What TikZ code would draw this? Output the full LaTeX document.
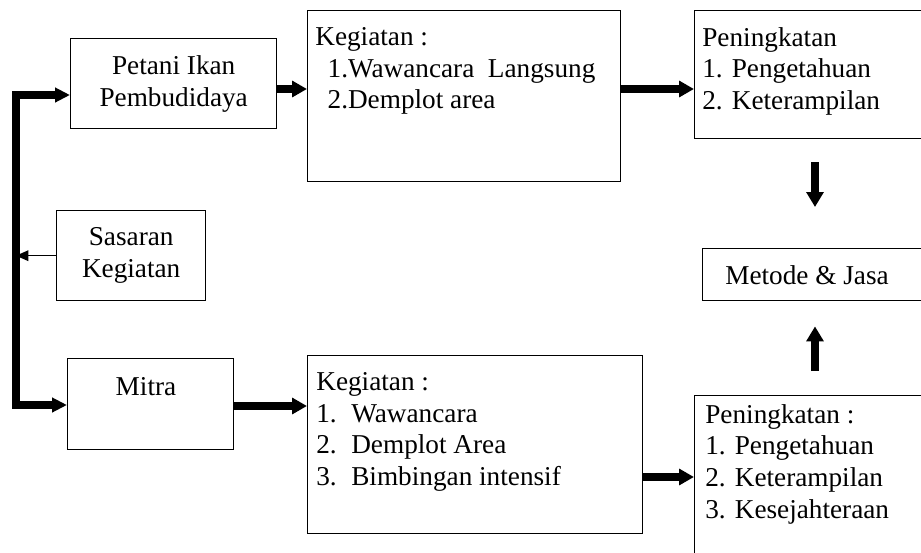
\documentclass[tikz,border=0pt]{standalone}
\usepackage{fontspec}
\setmainfont{Liberation Serif}
\usetikzlibrary{arrows.meta}

\begin{document}
\begin{tikzpicture}[x=0.02cm, y=-0.02cm,
    every node/.style={font=\fontsize{15.5}{18}\selectfont},
    box/.style={draw, line width=0.8pt, inner sep=0pt, anchor=north west, align=center},
    txt/.style={inner sep=0pt, anchor=north west, align=left},
    thk/.style={line width=4pt, -{Triangle[length=8.5pt,width=9pt]}},
    vthk/.style={line width=4.6pt, -{Triangle[length=8.5pt,width=9.5pt]}}]
  \useasboundingbox (0,0) rectangle (921,552);
  \clip (0,0) rectangle (921,552);
  % boxes
  \node[box, minimum width=4.12cm, minimum height=1.8cm] (petani) at (70,38) {Petani Ikan\\Pembudidaya};
  \node[box, minimum width=2.98cm, minimum height=1.8cm] (sasaran) at (56,210) {Sasaran\\Kegiatan};
  \node[box, minimum width=3.32cm, minimum height=1.82cm] (mitra) at (67,358) {};
  \node[box, minimum width=6.26cm, minimum height=3.42cm] (keg1) at (307,10) {};
  \node[box, minimum width=6.7cm, minimum height=3.56cm] (keg2) at (307,355) {};
  \node[box, minimum width=5.2cm, minimum height=2.56cm] (pen1) at (694,10) {};
  \node[box, minimum width=5.2cm, minimum height=4cm] (pen2) at (694,395) {};
  \node[box, minimum width=5cm, minimum height=1.04cm] (metode) at (702,248) {};
  % texts
  \node[inner sep=0pt, anchor=north] (mitratxt) at (146,377) {Mitra};
  \node[txt] (keg1txt) at (315,27) {Kegiatan :\\\hspace*{7pt}1.Wawancara\ \ Langsung\\\hspace*{7pt}2.Demplot area};
  \node[txt] (keg2txt) at (316,372) {Kegiatan :\\\makebox[0.7cm][l]{1.}Wawancara\\\makebox[0.7cm][l]{2.}Demplot Area\\\makebox[0.7cm][l]{3.}Bimbingan intensif};
  \node[txt] (pen1txt) at (702,27) {Peningkatan\\1. Pengetahuan\\2. Keterampilan};
  \node[txt] (pen2txt) at (705,404) {Peningkatan :\\1. Pengetahuan\\2. Keterampilan\\3. Kesejahteraan};
  \node[inner sep=0pt, anchor=west] (metodetxt) at (725,275) {Metode \& Jasa};
  % connectors
  \coordinate (st) at (16,95);
  \coordinate (sb) at (16,405);
  \coordinate (a1) at (0,89);
  \coordinate (a2) at (0,406);
  \coordinate (a3) at (0,477);
  \coordinate (a4) at (815,0);
  \draw[line width=4pt, {Triangle[length=8.5pt,width=8pt]}-{Triangle[length=8.5pt,width=8pt]}]
    (st -| petani.west) -- (st) -- (sb) -- (sb -| mitra.west);
  \draw[line width=0.8pt, -{Triangle[length=7pt,width=6pt]}] (sasaran.west) -- (sasaran.west -| st);
  \draw[thk] (petani.east |- a1) -- (keg1.west |- a1);
  \draw[thk] (keg1.east |- a1) -- (pen1.west |- a1);
  \draw[thk] (mitra.east |- a2) -- (keg2.west |- a2);
  \draw[thk] (keg2.east |- a3) -- (pen2.west |- a3);
  \draw[vthk, shorten <=0.46cm, shorten >=0.82cm] (pen1.south -| a4) -- (metode.north -| a4);
  \draw[vthk, shorten <=0.48cm, shorten >=0.5cm] (pen2.north -| a4) -- (metode.south -| a4);
\end{tikzpicture}
\end{document}
